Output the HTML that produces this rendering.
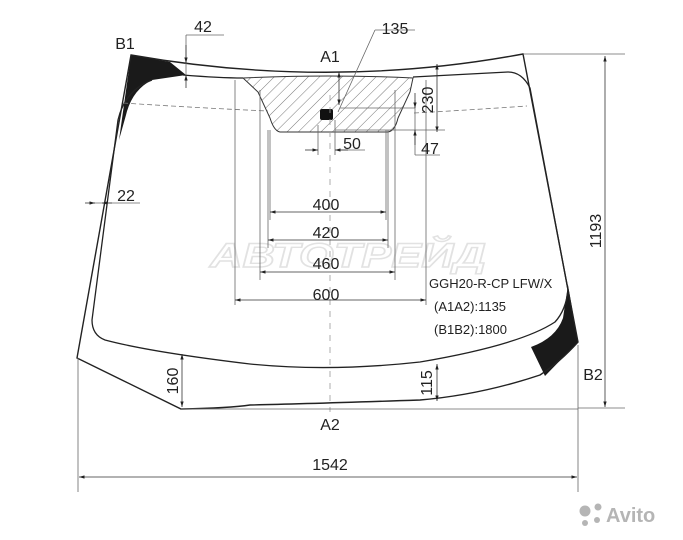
<!DOCTYPE html>
<html><head><meta charset="utf-8"><style>
html,body{margin:0;padding:0;background:#fff;}
svg{display:block;font-family:"Liberation Sans",Arial,sans-serif;}
</style></head><body>
<svg width="683" height="540" viewBox="0 0 683 540" xmlns="http://www.w3.org/2000/svg">
<defs>
<pattern id="h" width="8" height="8" patternUnits="userSpaceOnUse" patternTransform="rotate(45)">
<line x1="0" y1="0" x2="0" y2="8" stroke="#555" stroke-width="0.8"/>
</pattern>
<marker id="a" viewBox="0 0 10 10" refX="10" refY="5" markerWidth="7" markerHeight="7" orient="auto-start-reverse"><path d="M0,2 L10,5 L0,8 z" fill="#222"/></marker>
</defs>
<!-- watermark -->
<text x="348" y="267" font-size="34" font-style="italic" font-weight="bold" fill="#fff" stroke="#e2e2e2" stroke-width="1.4" text-anchor="middle" textLength="276" lengthAdjust="spacingAndGlyphs" font-family="Liberation Sans, DejaVu Sans, sans-serif">АВТОТРЕЙД</text>
<!-- hatch -->
<path d="M243,78 Q330,74 413,78 L410,92 L398,118 Q395,131 388,132 L280,132 Q274,131 270,118 L258,92 Z" fill="url(#h)" stroke="#333" stroke-width="1"/>
<rect x="320" y="109" width="13" height="11" rx="2" fill="#111"/>
<!-- black patches -->
<path d="M131,55 L170,62 L186,75 L152,80 Q132,90 126,115 L119,140 Z" fill="#1a1a1a"/>
<path d="M568,285 L578,342 L545,376 L531,347 Q556,338 563,318 Z" fill="#1a1a1a"/>
<!-- outer glass -->
<path d="M131,55 Q330,90 523,54 L578,342 Q560,362 540,375 Q480,395 420,400 Q300,404 250,405 Q230,408 181,409 L77,358 L131,55 Z" fill="none" stroke="#222" stroke-width="1.4"/>
<!-- inner glass -->
<path d="M183,75 Q220,78 243,78 M413,77 Q470,74 508,72 Q522,72 530,88 L568,290 Q566,310 555,322 Q520,345 420,362 Q330,372 250,364 Q150,352 105,340 Q92,335 92,320 L118,120 Q125,90 152,80" fill="none" stroke="#222" stroke-width="1.3"/>
<!-- dashed lines -->
<path d="M123,103 Q200,108 268,111 M414,113 Q470,110 527,106" fill="none" stroke="#777" stroke-width="0.8" stroke-dasharray="5,3"/>
<line x1="330" y1="95" x2="330" y2="412" stroke="#999" stroke-width="0.8" stroke-dasharray="6,6"/>
<g stroke="#666" stroke-width="0.8">
<line x1="235" y1="80" x2="235" y2="305"/>
<line x1="426" y1="80" x2="426" y2="305"/>
<line x1="260" y1="90" x2="260" y2="280"/>
<line x1="395" y1="90" x2="395" y2="280"/>
<line x1="270" y1="130" x2="270" y2="220"/>
<line x1="386" y1="130" x2="386" y2="220"/>
<line x1="268" y1="130" x2="268" y2="248"/>
<line x1="388" y1="130" x2="388" y2="248"/>
</g>
<g stroke="#333" stroke-width="0.8" marker-start="url(#a)" marker-end="url(#a)">
<line x1="270" y1="212" x2="386" y2="212"/>
<line x1="268" y1="240" x2="388" y2="240"/>
<line x1="260" y1="272" x2="395" y2="272"/>
<line x1="235" y1="300" x2="426" y2="300"/>
<line x1="605" y1="56" x2="605" y2="407"/>
<line x1="79" y1="477" x2="577" y2="477"/>
<line x1="182" y1="354" x2="182" y2="407"/>
<line x1="437" y1="364" x2="437" y2="401"/>
<line x1="437" y1="64" x2="437" y2="132"/>
<line x1="339" y1="72" x2="339" y2="105"/>
</g>
<g stroke="#666" stroke-width="0.8" fill="none">
<line x1="523" y1="54" x2="625" y2="54"/>
<line x1="578" y1="408" x2="625" y2="408"/>
<line x1="181" y1="409" x2="578" y2="409"/>
<line x1="78" y1="358" x2="78" y2="492"/>
<line x1="578" y1="345" x2="578" y2="492"/>
<line x1="186" y1="35" x2="186" y2="80"/>
<line x1="186" y1="35" x2="224" y2="35"/>
<line x1="338" y1="112" x2="375" y2="30"/>
<line x1="375" y1="30" x2="415" y2="30"/>
<line x1="335" y1="130" x2="445" y2="130"/>
<line x1="340" y1="108" x2="415" y2="108"/>
<line x1="415" y1="100" x2="415" y2="155"/>
<line x1="415" y1="155" x2="440" y2="155"/>
<line x1="318" y1="125" x2="318" y2="155"/>
<line x1="335" y1="120" x2="335" y2="155"/>
<line x1="340" y1="150" x2="365" y2="150"/>
<line x1="90" y1="203" x2="140" y2="203"/>
</g>
<g stroke="#333" stroke-width="0.8">
<line x1="305" y1="150" x2="318" y2="150" marker-end="url(#a)"/>
<line x1="348" y1="150" x2="335" y2="150" marker-end="url(#a)"/>
<line x1="186" y1="45" x2="186" y2="63" marker-end="url(#a)"/>
<line x1="186" y1="88" x2="186" y2="75" marker-end="url(#a)"/>
<line x1="415" y1="93" x2="415" y2="108" marker-end="url(#a)"/>
<line x1="415" y1="145" x2="415" y2="130" marker-end="url(#a)"/>
<line x1="85" y1="203" x2="95" y2="203" marker-end="url(#a)"/>
<line x1="112" y1="203" x2="102" y2="203" marker-end="url(#a)"/>
</g>
<g font-size="16" fill="#222" text-anchor="middle">
<text x="125" y="49">B1</text>
<text x="330" y="62">A1</text>
<text x="203" y="32">42</text>
<text x="395" y="34">135</text>
<text x="352" y="149">50</text>
<text x="430" y="154">47</text>
<text x="126" y="201">22</text>
<text x="326" y="210">400</text>
<text x="326" y="238">420</text>
<text x="326" y="269">460</text>
<text x="326" y="300">600</text>
<text x="330" y="430">A2</text>
<text x="330" y="470">1542</text>
<text x="593" y="380">B2</text>
<text transform="translate(601,231) rotate(-90)">1193</text>
<text transform="translate(433,100) rotate(-90)">230</text>
<text transform="translate(178,381) rotate(-90)">160</text>
<text transform="translate(432,383) rotate(-90)">115</text>
</g>
<g font-size="13" fill="#222">
<text x="429" y="288">GGH20-R-CP LFW/X</text>
<text x="434" y="311">(A1A2):1135</text>
<text x="434" y="334">(B1B2):1800</text>
</g>
<!-- avito logo -->
<g fill="#b5b5b5">
<circle cx="585" cy="511" r="5.5"/><circle cx="598" cy="507" r="3.5"/><circle cx="597" cy="520" r="3"/><circle cx="585" cy="523" r="3"/>
<text x="606" y="522" font-size="20" font-weight="bold">Avito</text>
</g>
</svg>
</body></html>
